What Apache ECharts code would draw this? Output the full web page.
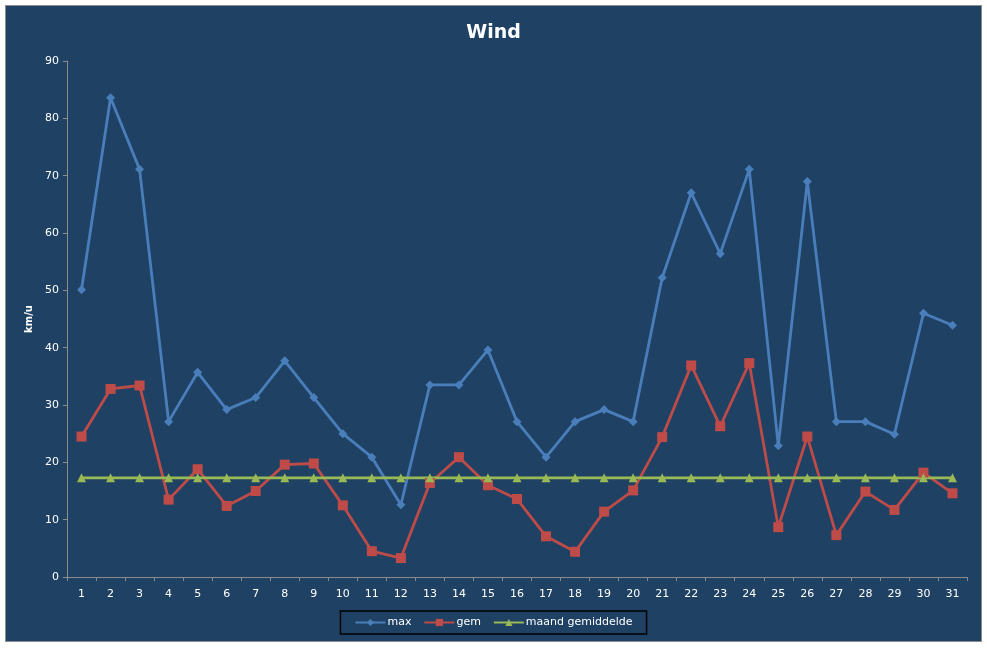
<!DOCTYPE html>
<html>
<head>
<meta charset="utf-8">
<title>Wind</title>
<script src="https://cdn.jsdelivr.net/npm/echarts@6/dist/echarts.min.js"></script>
<style>
    html, body { margin: 0; padding: 0; background: #ffffff; }
    /* chart frame like the Excel chart area */
    #frame { position: absolute; left: 5px; top: 5px; width: 975px; height: 635px;
             background: #1f4264; border: 1px solid #8c8c8c; }
    #main { position: absolute; left: 0; top: 0; width: 987px; height: 648px; }
</style>
</head>
<body>
<div id="frame"></div>
<div id="main"></div>
<script type="text/javascript">
    // dagen van de maand
    var days = ['1','2','3','4','5','6','7','8','9','10','11','12','13','14','15','16',
                '17','18','19','20','21','22','23','24','25','26','27','28','29','30','31'];
    // maximale windsnelheid (km/u)
    var maxData = [50.1, 83.6, 71.1, 27.1, 35.7, 29.2, 31.3, 37.7, 31.3, 25.0, 20.9, 12.6, 33.5, 33.5, 39.6, 27.1,
                   20.9, 27.1, 29.2, 27.1, 52.2, 67.0, 56.4, 71.1, 22.9, 69.0, 27.1, 27.1, 24.9, 46.0, 43.9];
    // gemiddelde windsnelheid (km/u)
    var gemData = [24.5, 32.8, 33.4, 13.5, 18.8, 12.4, 15.0, 19.6, 19.8, 12.5, 4.5, 3.3, 16.4, 20.9, 16.0, 13.6,
                   7.1, 4.4, 11.4, 15.1, 24.4, 36.9, 26.3, 37.3, 8.7, 24.5, 7.3, 14.9, 11.7, 18.2, 14.6];
    // maandgemiddelde
    var maandData = [17.3, 17.3, 17.3, 17.3, 17.3, 17.3, 17.3, 17.3, 17.3, 17.3, 17.3, 17.3, 17.3, 17.3, 17.3, 17.3,
                     17.3, 17.3, 17.3, 17.3, 17.3, 17.3, 17.3, 17.3, 17.3, 17.3, 17.3, 17.3, 17.3, 17.3, 17.3];

    var myChart = echarts.init(document.getElementById('main'));
    var font = 'Tahoma, "DejaVu Sans", sans-serif';

    var option = {
        backgroundColor: 'transparent',
        animation: false,
        title: {
            text: 'Wind',
            left: 'center',
            top: 19,
            textStyle: { color: '#ffffff', fontSize: 19, fontWeight: 'bold', fontFamily: font }
        },
        legend: {
            bottom: 14,
            left: 'center',
            itemWidth: 30,
            itemHeight: 9,
            itemGap: 12,
            padding: [6, 14, 6, 14],
            borderColor: '#000000',
            borderWidth: 1.5,
            textStyle: { color: '#ffffff', fontSize: 11, fontFamily: font, padding: [0, 0, 0, -3] },
            data: ['max', 'gem', 'maand gemiddelde']
        },
        grid: {
            left: 67,
            right: 20,
            top: 61,
            bottom: 71
        },
        xAxis: {
            type: 'category',
            data: days,
            boundaryGap: true,
            axisLine: { lineStyle: { color: '#8c8c8c', width: 1 } },
            axisTick: { show: true, length: 4, lineStyle: { color: '#8c8c8c' } },
            axisLabel: { color: '#ffffff', fontSize: 11, fontFamily: font, margin: 12, interval: 0 }
        },
        yAxis: {
            type: 'value',
            min: 0,
            max: 90,
            interval: 10,
            name: 'km/u',
            nameLocation: 'middle',
            nameRotate: 90,
            nameGap: 30,
            nameTextStyle: { color: '#ffffff', fontSize: 10, fontWeight: 'bold', fontFamily: font },
            axisLine: { show: true, lineStyle: { color: '#8c8c8c', width: 1 } },
            axisTick: { show: true, length: 4, lineStyle: { color: '#8c8c8c' } },
            axisLabel: { color: '#ffffff', fontSize: 11, fontFamily: font, margin: 8 },
            splitLine: { show: false }
        },
        series: [
            {
                name: 'max',
                type: 'line',
                data: maxData,
                symbol: 'diamond',
                symbolSize: 9,
                itemStyle: { color: '#4a7ebb' },
                lineStyle: { color: '#4a7ebb', width: 2.8 }
            },
            {
                name: 'gem',
                type: 'line',
                data: gemData,
                symbol: 'rect',
                symbolSize: 10,
                itemStyle: { color: '#be4b48' },
                lineStyle: { color: '#be4b48', width: 2.8 }
            },
            {
                name: 'maand gemiddelde',
                type: 'line',
                data: maandData,
                symbol: 'triangle',
                symbolSize: 9,
                itemStyle: { color: '#98b954' },
                lineStyle: { color: '#98b954', width: 2.8 }
            }
        ]
    };
    myChart.setOption(option);
</script>
</body>
</html>
